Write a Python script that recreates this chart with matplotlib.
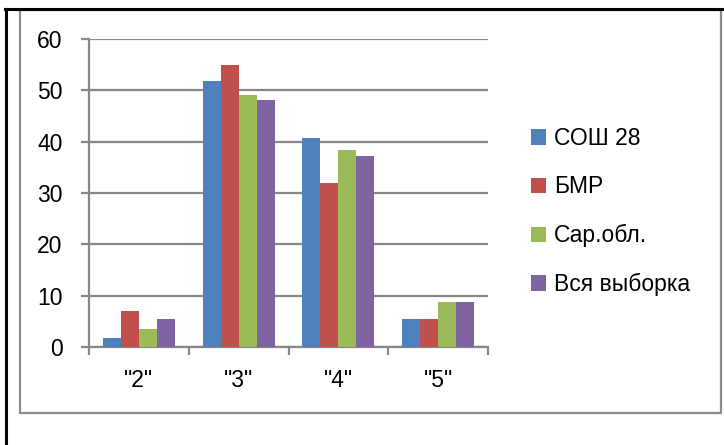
import numpy as np
import matplotlib.pyplot as plt
from matplotlib.lines import Line2D
from matplotlib.patches import Rectangle

plt.rcParams['font.family'] = ['Liberation Sans', 'DejaVu Sans']

# data
categories = ['"2"', '"3"', '"4"', '"5"']
series = ['СОШ 28', 'БМР', 'Сар.обл.', 'Вся выборка']
sosh28 = [1.8, 51.8, 40.7, 5.4]
bmr = [7.0, 55.0, 32.0, 5.5]
sar_obl = [3.5, 49.0, 38.4, 8.8]
vsya = [5.5, 48.1, 37.3, 8.7]
colors = ['#4F81BD', '#C0504D', '#9BBB59', '#8064A2']

W, H = 724, 445
fig = plt.figure(figsize=(W/100, H/100), dpi=100)
ax = fig.add_axes([89/W, 1-347/H, (488-89)/W, (347-39)/H])

x = np.arange(len(categories)) + 0.5  # category centers
bw = 0.18
for i, (vals, name) in enumerate(zip([sosh28, bmr, sar_obl, vsya], series)):
    ax.bar(x + (i-1.5)*bw, vals, bw, color=colors[i], label=name, zorder=3)

grid_c = '#878787'
ax.set_xlim(0, len(categories))
ax.set_ylim(0, 60)
ax.set_yticks(range(0, 61, 10))
ax.yaxis.grid(True, color=grid_c, lw=1.6, zorder=0)
ax.set_xticks(range(len(categories)+1))
ax.set_xticklabels([])
ax.set_xticks(x, minor=True)
ax.set_xticklabels(categories, minor=True, fontsize=16.5)
ax.tick_params(axis='x', which='major', length=6, width=1.6, color=grid_c)
ax.tick_params(axis='x', which='minor', length=0, pad=16)
ax.tick_params(axis='y', length=6, width=1.6, color=grid_c, pad=13, labelsize=16.5)
for s in ['top', 'right']:
    ax.spines[s].set_visible(False)
for s in ['left', 'bottom']:
    ax.spines[s].set_color(grid_c)
    ax.spines[s].set_linewidth(1.6)

ax.legend(loc='center left', bbox_to_anchor=(531/W, 1-211.5/H),
          bbox_transform=fig.transFigure, frameon=False, fontsize=16.5,
          handlelength=0.66, handleheight=0.66, handletextpad=0.35,
          labelspacing=1.12, borderpad=0, borderaxespad=0)

# frames around the chart
fig.add_artist(Rectangle((20/W, 1-413/H), (721-20)/W, (413-10)/H,
                         transform=fig.transFigure, fill=False,
                         edgecolor='#8c8c8c', lw=1.6))
fig.add_artist(Line2D([5/W, 1], [1-8.5/H, 1-8.5/H], transform=fig.transFigure,
                      color='black', lw=2.2))
fig.add_artist(Line2D([6/W, 6/W], [0, 1-8.5/H], transform=fig.transFigure,
                      color='black', lw=2.2))

fig.savefig('out.png', dpi=100)
